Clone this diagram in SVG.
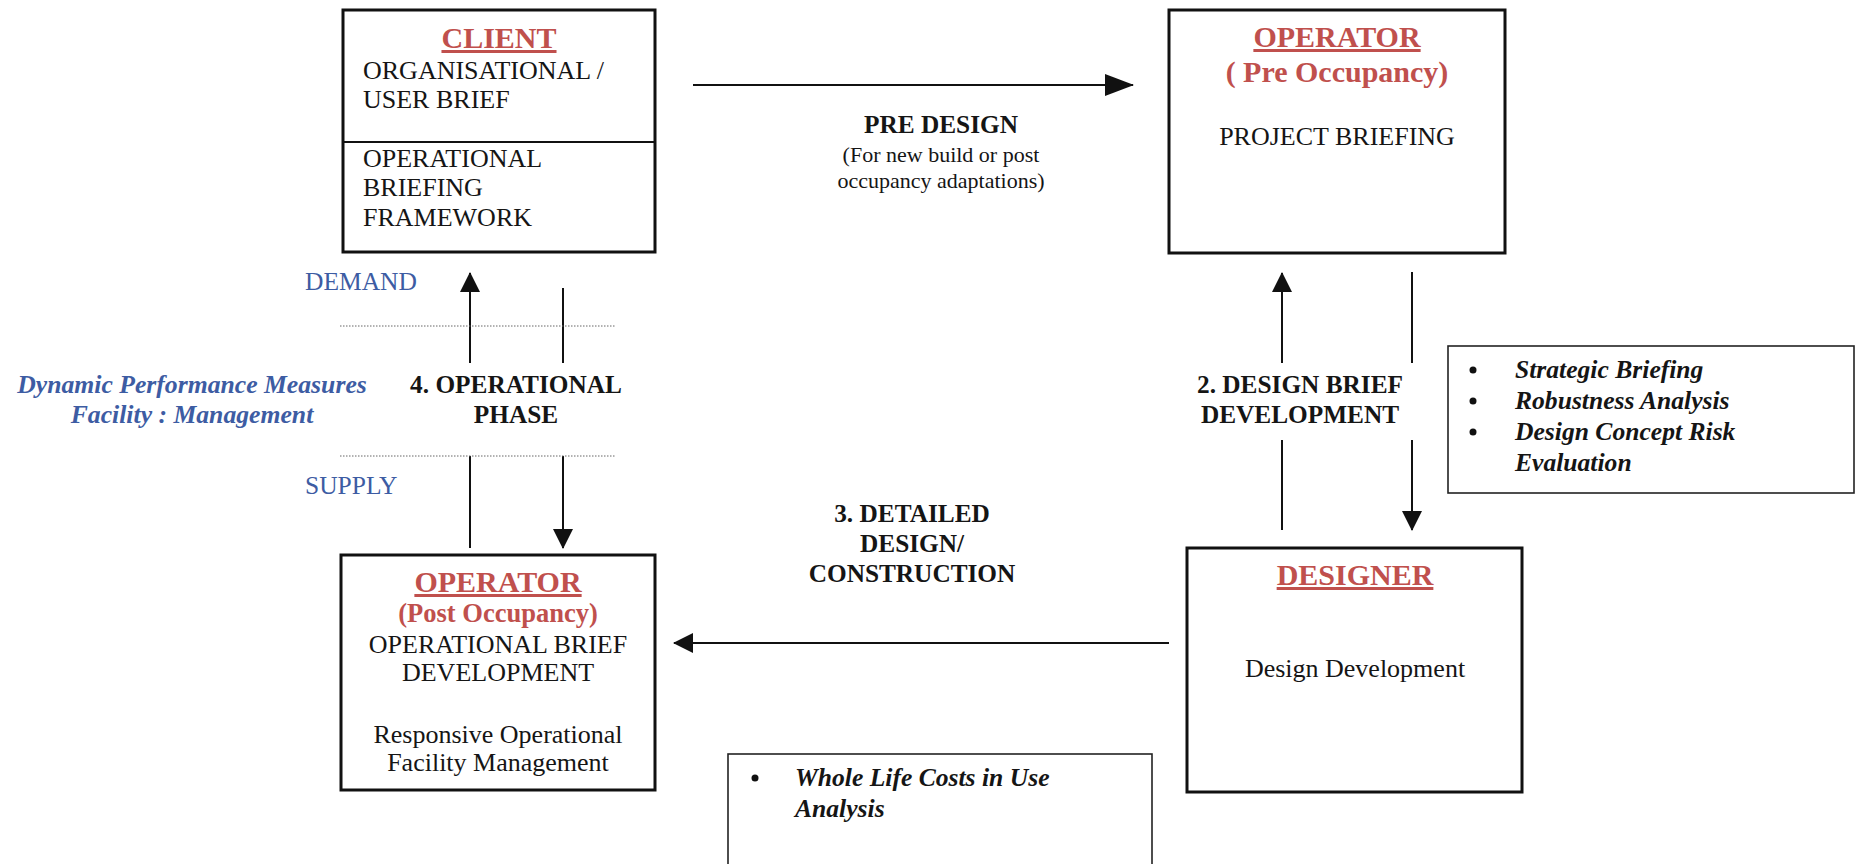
<svg xmlns="http://www.w3.org/2000/svg" width="1856" height="864" viewBox="0 0 1856 864">
<style>
text{font-family:"Liberation Serif","Times New Roman",serif;fill:#151515}
.t{font-size:26px}
.b{font-size:25.3px;font-weight:bold}
.h{font-size:30px;font-weight:bold;fill:#c0504d;text-decoration:underline}
.hs{font-weight:bold;fill:#c0504d}
.bl{font-size:25.5px;fill:#3d5ca3}
.bi{font-size:25.7px;font-weight:bold;font-style:italic;fill:#3d5ca3}
.it{font-size:25.6px;font-weight:bold;font-style:italic}
.s{font-size:22px}
.m{text-anchor:middle}
.box{fill:#fff;stroke:#111;stroke-width:3}
.tbox{fill:#fff;stroke:#222;stroke-width:1.6}
.ln{stroke:#111;stroke-width:2;fill:none}
.dot{stroke:#666;stroke-width:1;stroke-dasharray:1.5 1.5}
</style>
<defs>
<marker id="ah" markerUnits="userSpaceOnUse" markerWidth="20" markerHeight="20" refX="19" refY="10" orient="auto">
<path d="M0,0 L20,10 L0,20 z" fill="#111"/>
</marker>
<marker id="ahl" markerUnits="userSpaceOnUse" markerWidth="29" markerHeight="22" refX="28" refY="11" orient="auto">
<path d="M0,0 L29,11 L0,22 z" fill="#111"/>
</marker>
</defs>
<rect width="1856" height="864" fill="#fff"/>

<g id="connectors">
<line class="ln" x1="693" y1="85" x2="1133" y2="85" marker-end="url(#ahl)"/>
<line class="ln" x1="1169" y1="643" x2="674" y2="643" marker-end="url(#ah)"/>
<line class="ln" x1="470" y1="363" x2="470" y2="273" marker-end="url(#ah)"/>
<line class="ln" x1="470" y1="456" x2="470" y2="548"/>
<line class="ln" x1="563" y1="288" x2="563" y2="363"/>
<line class="ln" x1="563" y1="456" x2="563" y2="548" marker-end="url(#ah)"/>
<line class="ln" x1="1282" y1="363" x2="1282" y2="273" marker-end="url(#ah)"/>
<line class="ln" x1="1282" y1="440" x2="1282" y2="530"/>
<line class="ln" x1="1412" y1="272" x2="1412" y2="363"/>
<line class="ln" x1="1412" y1="440" x2="1412" y2="530" marker-end="url(#ah)"/>
<line class="dot" x1="340" y1="326" x2="616" y2="326"/>
<line class="dot" x1="340" y1="456" x2="616" y2="456"/>
</g>

<g id="client">
<rect class="box" x="343" y="10" width="312" height="242"/>
<line x1="343" y1="142" x2="655" y2="142" stroke="#111" stroke-width="2"/>
<text class="h m" x="499" y="48">CLIENT</text>
<text class="t" x="363" y="79">ORGANISATIONAL /</text>
<text class="t" x="363" y="108">USER BRIEF</text>
<text class="t" x="363" y="167">OPERATIONAL</text>
<text class="t" x="363" y="196">BRIEFING</text>
<text class="t" x="363" y="226">FRAMEWORK</text>
</g>

<g id="operator-pre">
<rect class="box" x="1169" y="10" width="336" height="243"/>
<text class="h m" x="1337" y="47">OPERATOR</text>
<text class="hs m" x="1337" y="82" font-size="30">( Pre Occupancy)</text>
<text class="t m" x="1337" y="145">PROJECT BRIEFING</text>
</g>

<g id="pre-design">
<text class="b m" x="941" y="133">PRE DESIGN</text>
<text class="s m" x="941" y="162">(For new build or post</text>
<text class="s m" x="941" y="188">occupancy adaptations)</text>
</g>

<g id="operational-phase">
<text class="bl" x="305" y="290">DEMAND</text>
<text class="bl" x="305" y="494">SUPPLY</text>
<text class="bi m" x="192" y="393">Dynamic Performance Measures</text>
<text class="bi m" x="192" y="423">Facility : Management</text>
<text class="b m" x="516" y="393">4. OPERATIONAL</text>
<text class="b m" x="516" y="423">PHASE</text>
</g>

<g id="design-brief">
<text class="b m" x="1300" y="393">2. DESIGN BRIEF</text>
<text class="b m" x="1300" y="423">DEVELOPMENT</text>
</g>

<g id="strategic-box">
<rect class="tbox" x="1448" y="346" width="406" height="147"/>
<circle cx="1473" cy="370" r="3.5" fill="#111"/>
<circle cx="1473" cy="401" r="3.5" fill="#111"/>
<circle cx="1473" cy="432" r="3.5" fill="#111"/>
<text class="it" x="1515" y="378">Strategic Briefing</text>
<text class="it" x="1515" y="409">Robustness Analysis</text>
<text class="it" x="1515" y="440">Design Concept Risk</text>
<text class="it" x="1515" y="471">Evaluation</text>
</g>

<g id="detailed-design">
<text class="b m" x="912" y="522">3. DETAILED</text>
<text class="b m" x="912" y="552">DESIGN/</text>
<text class="b m" x="912" y="582">CONSTRUCTION</text>
</g>

<g id="operator-post">
<rect class="box" x="341" y="555" width="314" height="235"/>
<text class="h m" x="498" y="592">OPERATOR</text>
<text class="hs m" x="498" y="622" font-size="26.5">(Post Occupancy)</text>
<text class="t m" x="498" y="653">OPERATIONAL BRIEF</text>
<text class="t m" x="498" y="681">DEVELOPMENT</text>
<text class="t m" x="498" y="743">Responsive Operational</text>
<text class="t m" x="498" y="771">Facility Management</text>
</g>

<g id="designer">
<rect class="box" x="1187" y="548" width="335" height="244"/>
<text class="h m" x="1355" y="585">DESIGNER</text>
<text class="t m" x="1355" y="677">Design Development</text>
</g>

<g id="whole-life-box">
<rect class="tbox" x="728" y="754" width="424" height="130"/>
<circle cx="755" cy="778" r="3.5" fill="#111"/>
<text class="it" x="795" y="786">Whole Life Costs in Use</text>
<text class="it" x="795" y="817">Analysis</text>
</g>
</svg>
